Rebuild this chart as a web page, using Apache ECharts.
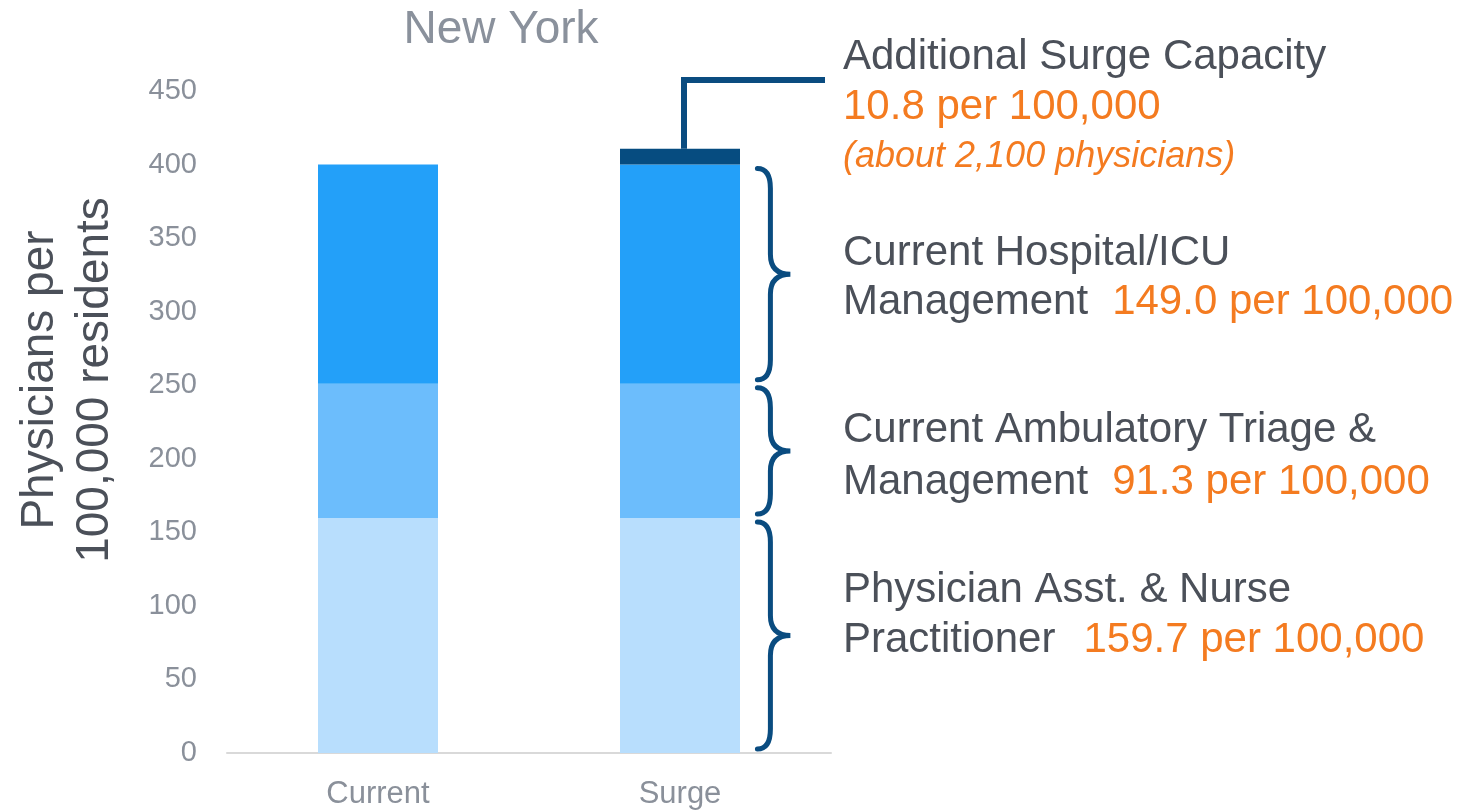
<!DOCTYPE html>
<html>
<head>
<meta charset="utf-8">
<script src="https://cdn.jsdelivr.net/npm/echarts@6/dist/echarts.min.js"></script>
<style>
    html, body { margin: 0; padding: 0; background: #fff; }
    #chart { width: 1464px; height: 810px; }
</style>
</head>
<body>
<div id="chart"></div>
<script>
    var categories = ['Current', 'Surge'];
    var paNp = [159.7, 159.7];
    var ambulatory = [91.3, 91.3];
    var hospitalIcu = [149.0, 149.0];
    var surgeExtra = ['-', 10.8];
    var yTicks = [0, 50, 100, 150, 200, 250, 300, 350, 400, 450];

    // braces drawn beside the Surge bar: [category, from, to]
    var braces = [
        ['Surge', 0, 159.7],
        ['Surge', 159.7, 251.0],
        ['Surge', 251.0, 400.0]
    ];
    var calloutAnchor = [['Surge', 410.8]];

    var FONT = '"Liberation Sans", Arial, sans-serif';
    var GRAY = '#4b5059';
    var ORANGE = '#f47b20';
    var NAVY = '#0a4c80';
    var BIG = '42px ' + FONT;

    function braceItem(params, api) {
        var top = api.coord([api.value(0), api.value(2)]);
        var bot = api.coord([api.value(0), api.value(1)]);
        var half = api.size([1, 0])[0] * 0.2;
        var xl = top[0] + half + 17;
        var xs = xl + 13;
        var xp = xl + 33;
        var yT = top[1] + 4, yB = bot[1] - 4, yM = (yT + yB) / 2;
        var r = 20;
        var d = 'M' + xl + ' ' + yT +
            ' Q' + xs + ' ' + yT + ' ' + xs + ' ' + (yT + r) +
            ' L' + xs + ' ' + (yM - r) +
            ' Q' + xs + ' ' + yM + ' ' + xp + ' ' + yM +
            ' Q' + xs + ' ' + yM + ' ' + xs + ' ' + (yM + r) +
            ' L' + xs + ' ' + (yB - r) +
            ' Q' + xs + ' ' + yB + ' ' + xl + ' ' + yB;
        return {
            type: 'path',
            shape: { pathData: d },
            style: { fill: 'none', stroke: NAVY, lineWidth: 5, lineCap: 'round' }
        };
    }

    function calloutItem(params, api) {
        var p = api.coord([api.value(0), api.value(1)]);
        var x = p[0] + 4;
        var yTop = params.coordSys.y - 11;
        return {
            type: 'polyline',
            shape: { points: [[x, p[1]], [x, yTop], [825, yTop]] },
            style: { fill: 'none', stroke: NAVY, lineWidth: 6 }
        };
    }

    function twoTone(gray, orange, gap) {
        return {
            text: '{g|' + gray + '}{o|' + orange + '}',
            verticalAlign: 'middle',
            rich: {
                g: { font: BIG, fill: GRAY },
                o: { font: BIG, fill: ORANGE, padding: [0, 0, 0, gap] }
            }
        };
    }

    var chart = echarts.init(document.getElementById('chart'));

    var option = {
        animation: false,
        title: {
            text: 'New York',
            left: 496,
            top: 2,
            textAlign: 'center',
            textStyle: { fontFamily: FONT, fontSize: 46, fontWeight: 'normal', color: '#8a919c' }
        },
        grid: { left: 227, right: 633, top: 91, bottom: 56 },
        xAxis: {
            type: 'category',
            data: categories,
            axisLine: { lineStyle: { color: '#d9d9d9', width: 2 } },
            axisTick: { show: false },
            axisLabel: { fontFamily: FONT, fontSize: 31, color: '#8a909a', margin: 26 }
        },
        yAxis: {
            type: 'value',
            min: yTicks[0],
            max: yTicks[yTicks.length - 1],
            interval: 50,
            splitLine: { show: false },
            axisLine: { show: false },
            axisLabel: { fontFamily: FONT, fontSize: 29, color: '#8a909a', margin: 30 }
        },
        series: [
            { name: 'PA & NP', type: 'bar', stack: 'a', barWidth: 120, data: paNp, itemStyle: { color: '#b8defd' } },
            { name: 'Ambulatory', type: 'bar', stack: 'a', barWidth: 120, data: ambulatory, itemStyle: { color: '#6cbdfc' } },
            { name: 'Hospital/ICU', type: 'bar', stack: 'a', barWidth: 120, data: hospitalIcu, itemStyle: { color: '#23a0f9' } },
            { name: 'Surge', type: 'bar', stack: 'a', barWidth: 120, data: surgeExtra, itemStyle: { color: '#064c80' } },
            { type: 'custom', renderItem: braceItem, data: braces, silent: true, z: 5 },
            { type: 'custom', renderItem: calloutItem, data: calloutAnchor, silent: true, z: 5 }
        ],
        graphic: [
            {
                type: 'text', x: 68, y: 380, rotation: Math.PI / 2,
                style: {
                    text: 'Physicians per\n100,000 residents',
                    font: '46px ' + FONT, fill: GRAY,
                    align: 'center', verticalAlign: 'middle', lineHeight: 55
                }
            },
            {
                type: 'text', x: 843, y: 57,
                style: { text: 'Additional Surge Capacity', font: BIG, fill: GRAY, verticalAlign: 'middle' }
            },
            {
                type: 'text', x: 843, y: 107,
                style: { text: '10.8 per 100,000', font: BIG, fill: ORANGE, verticalAlign: 'middle' }
            },
            {
                type: 'text', x: 843, y: 157,
                style: { text: '(about 2,100 physicians)', font: 'italic 36px ' + FONT, fill: ORANGE, verticalAlign: 'middle' }
            },
            {
                type: 'text', x: 843, y: 253,
                style: { text: 'Current Hospital/ICU', font: BIG, fill: GRAY, verticalAlign: 'middle' }
            },
            { type: 'text', x: 843, y: 302, style: twoTone('Management', '149.0 per 100,000', 24) },
            {
                type: 'text', x: 843, y: 430,
                style: { text: 'Current Ambulatory Triage &', font: BIG, fill: GRAY, verticalAlign: 'middle' }
            },
            { type: 'text', x: 843, y: 482, style: twoTone('Management', '91.3 per 100,000', 24) },
            {
                type: 'text', x: 843, y: 590,
                style: { text: 'Physician Asst. & Nurse', font: BIG, fill: GRAY, verticalAlign: 'middle' }
            },
            { type: 'text', x: 843, y: 640, style: twoTone('Practitioner', '159.7 per 100,000', 28) }
        ]
    };

    chart.setOption(option);
</script>
</body>
</html>
